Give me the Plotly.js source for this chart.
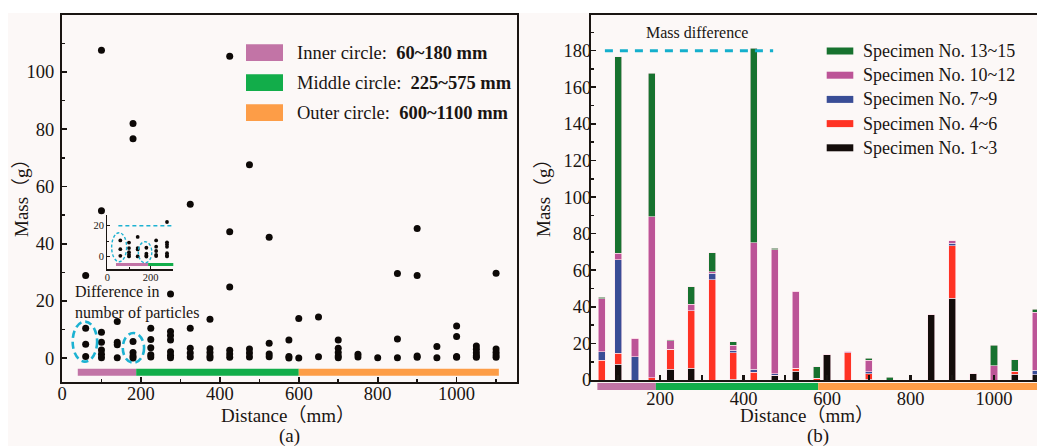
<!DOCTYPE html>
<html><head><meta charset="utf-8">
<script src="https://cdn.plot.ly/plotly-3.0.1.min.js"></script>
<style>html,body{margin:0;padding:0;background:#fff;overflow:hidden}</style>
</head><body><div id="chart" style="width:1037px;height:446px"></div>
<script>
// ---------- Panel (a): individual particle masses ----------
const particleDistance = [
  60,60,60,60,
  100,100,100,100,100,100,100,
  140,140,140,140,
  180,180,180,180,180,180,
  225,225,225,225,225,
  275,275,275,275,275,275,275,
  325,325,325,325,325,
  375,375,375,375,375,
  425,425,425,425,425,425,
  475,475,475,475,
  525,525,525,525,
  575,575,575,
  600,600,
  650,650,
  700,700,700,700,700,
  750,750,
  800,
  850,850,850,
  900,900,900,900,
  950,950,
  1000,1000,1000,1000,
  1050,1050,1050,1050,1050,
  1100,1100,1100,1100,1100
];
const particleMass = [
  28.9,10.5,4.9,0.6,
  107.6,51.5,9.1,5.6,2.9,1.4,0.2,
  12.8,5.6,4.7,0.2,
  82.0,76.7,5.8,2.0,0.8,0.1,
  10.5,6.5,3.7,1.2,0.4,
  22.4,9.3,7.9,6.4,2.3,1.0,0.2,
  53.8,10.5,3.5,1.8,0.4,
  13.6,3.3,2.0,0.8,0.1,
  105.5,44.2,24.9,2.8,1.5,0.3,
  67.6,3.2,1.8,0.4,
  42.3,5.2,1.5,0.5,
  6.4,0.6,0.1,
  13.9,0.1,
  14.4,0.5,
  6.4,3.5,2.0,0.8,0.2,
  1.4,0.4,
  0.2,
  29.6,6.7,0.2,
  45.3,28.9,0.8,0.3,
  4.1,0.2,
  11.3,7.6,0.6,0.3,
  4.3,3.1,1.9,0.9,0.3,
  29.7,3.2,2.1,1.1,0.3
];
const zoneLabels = ['Inner circle: ', 'Middle circle: ', 'Outer circle: '];
const zoneRanges = ['60~180 mm', '225~575 mm', '600~1100 mm'];
const zoneStartA = [40, 188, 600];
const zoneEndA   = [188, 600, 1107];
const zoneStartB = [50, 190, 579];
const zoneEndB   = [190, 579, 1120];
const zoneColors = ['#c274a6', '#12ad4a', '#fd9d47'];

// ---------- Panel (b): stacked mass per distance ----------
const barDistance = [60,100,140,180,225,275,325,375,425,475,525,575,600,650,700,750,850,900,950,1000,1050,1100];
const mass1to3   = [0, 8.6, 0, 0, 6.0, 6.4, 0, 0.4, 0, 2.7, 4.9, 0, 13.7, 0, 0.5, 0, 35.7, 44.6, 3.4, 0, 3.2, 3.0];
const mass4to6   = [10.8, 6.0, 0, 1.3, 10.8, 31.5, 54.7, 14.6, 4.2, 0, 1.5, 0.9, 0, 14.9, 3.0, 0, 0, 28.8, 0, 0, 1.2, 0];
const mass7to9   = [4.7, 51.0, 12.8, 0, 0, 0, 3.6, 1.2, 1.8, 0.6, 0, 0, 0, 0, 1.0, 0, 0, 1.3, 0, 0, 0, 2.4];
const mass10to12 = [28.8, 3.6, 10.0, 88.0, 4.7, 3.6, 1.0, 2.8, 69.0, 67.8, 42.2, 0, 0, 0.9, 6.3, 0, 0, 1.5, 0, 7.8, 0.3, 31.7];
const mass13to15 = [0.9, 107.5, 0, 78.3, 0.6, 9.6, 10.2, 1.8, 106.3, 1.0, 0, 6.4, 0, 0, 1.2, 1.6, 0, 0, 0, 11.3, 6.3, 1.5];
const specimenNames  = ['Specimen No. 1~3', 'Specimen No. 4~6', 'Specimen No. 7~9', 'Specimen No. 10~12', 'Specimen No. 13~15'];
const specimenColors = ['#140d0b', '#ff3324', '#394d96', '#bc5497', '#17722f'];
const specimenSeries = [mass1to3, mass4to6, mass7to9, mass10to12, mass13to15];
const massDifferenceLevel = 180;
const massDifferenceFrom = 68, massDifferenceTo = 471;

// ---------- helpers ----------
const W = 1037, H = 446;
const X = v => v / W;
const Y = v => 1 - v / H;
const serif = 'Liberation Serif, Times New Roman, Noto Sans CJK SC, serif';
const ink = '#1a1512';
const cyan = '#1db2d2';

const traces = [];
traces.push({type:'scatter', mode:'markers', x:particleDistance, y:particleMass, xaxis:'x', yaxis:'y',
  marker:{size:7, color:'#0d0907'}, hoverinfo:'skip', showlegend:false});
traces.push({type:'scatter', mode:'markers', x:particleDistance, y:particleMass, xaxis:'x3', yaxis:'y3',
  marker:{size:3.8, color:'#0d0907'}, hoverinfo:'skip', showlegend:false});
specimenSeries.forEach((s, i) => {
  traces.push({type:'bar', x:barDistance, y:s, name:specimenNames[i], xaxis:'x2', yaxis:'y2', width:17,
    marker:{color:specimenColors[i], line:{color:'rgba(255,228,236,0.75)', width:0.8}},
    hoverinfo:'skip', showlegend:false});
});
traces.push({type:'scatter', mode:'markers', x:[null], y:[null], xaxis:'x2', yaxis:'y4', showlegend:false, hoverinfo:'skip'});

const tf = {family:serif, size:18.5, color:ink};
const axBase = {showline:true, linewidth:2, linecolor:ink, ticks:'inside', ticklen:5, tickwidth:1.6, tickcolor:ink,
  showgrid:false, zeroline:false, tickfont:tf};

const shapes = [];
shapes.push({type:'rect', xref:'paper', yref:'paper', x0:X(8), x1:1, y0:0, y1:Y(13), fillcolor:'#fcf8f7', line:{width:0}, layer:'below'});
zoneStartA.forEach((s, i) => {
  shapes.push({type:'rect', xref:'x', yref:'y', x0:s, x1:zoneEndA[i], y0:-6.1, y1:-3.7, fillcolor:zoneColors[i], line:{width:0}});
  shapes.push({type:'rect', xref:'x3', yref:'y3', x0:s, x1:zoneEndA[i], y0:-5.9, y1:-4.0, fillcolor:zoneColors[i], line:{width:0}});
  shapes.push({type:'rect', xref:'x2', yref:'y4', x0:zoneStartB[i], x1:zoneEndB[i], y0:0, y1:1, fillcolor:zoneColors[i], line:{width:0}});
});
shapes.push({type:'circle', xref:'x', yref:'y', x0:27, x1:89, y0:-1.2, y1:12.8, line:{color:cyan, width:2.6, dash:'7px,4px'}});
shapes.push({type:'circle', xref:'x', yref:'y', x0:154, x1:208, y0:-1.6, y1:8.8, line:{color:cyan, width:2.6, dash:'7px,4px'}});
shapes.push({type:'line', xref:'x3', yref:'y3', x0:51, x1:304, y0:20, y1:20, line:{color:cyan, width:1.5, dash:'4px,3px'}});
shapes.push({type:'circle', xref:'x3', yref:'y3', x0:20, x1:89, y0:-3.2, y1:15.5, line:{color:cyan, width:1.4, dash:'3px,2px'}});
shapes.push({type:'circle', xref:'x3', yref:'y3', x0:143, x1:205, y0:-3.9, y1:9.7, line:{color:cyan, width:1.4, dash:'3px,2px'}});
shapes.push({type:'line', xref:'x2', yref:'y2', x0:massDifferenceFrom, x1:massDifferenceTo, y0:massDifferenceLevel, y1:massDifferenceLevel,
  line:{color:'#14afcc', width:3, dash:'8px,7px'}});

const annotations = [];
zoneLabels.forEach((t, i) => {
  const top = 44.3 + 30 * i;
  shapes.push({type:'rect', xref:'paper', yref:'paper', x0:X(246), x1:X(283), y0:Y(top + 16.8), y1:Y(top), fillcolor:zoneColors[i], line:{width:0}});
  annotations.push({xref:'paper', yref:'paper', x:X(295), y:Y(top + 9), xanchor:'left', yanchor:'middle', showarrow:false,
    text:t + ' <b>' + zoneRanges[i] + '</b>', font:{family:serif, size:18.5, color:ink}});
});
for (let k = 0; k < specimenNames.length; k++) {
  const i = specimenNames.length - 1 - k;
  const cy = 51 + 24.2 * k;
  shapes.push({type:'rect', xref:'paper', yref:'paper', x0:X(826.7), x1:X(853.3), y0:Y(cy + 3.5), y1:Y(cy - 3.5), fillcolor:specimenColors[i], line:{width:0}});
  annotations.push({xref:'paper', yref:'paper', x:X(861), y:Y(cy), xanchor:'left', yanchor:'middle', showarrow:false,
    text:specimenNames[i], font:{family:serif, size:18, color:ink}});
}
annotations.push({xref:'paper', yref:'paper', x:X(73), y:Y(302), xanchor:'left', yanchor:'middle', align:'left', showarrow:false,
  text:'Difference in<br>number of particles', font:{family:serif, size:16, color:ink}});
annotations.push({xref:'paper', yref:'paper', x:X(696.7), y:Y(33), xanchor:'center', yanchor:'middle', showarrow:false,
  text:'Mass difference', font:{family:serif, size:16, color:ink}});
annotations.push({xref:'paper', yref:'paper', x:X(287.7), y:Y(415), xanchor:'center', yanchor:'middle', showarrow:false,
  text:'Distance（mm）', font:{family:serif, size:19, color:ink}});
annotations.push({xref:'paper', yref:'paper', x:X(806.7), y:Y(415), xanchor:'center', yanchor:'middle', showarrow:false,
  text:'Distance（mm）', font:{family:serif, size:19, color:ink}});
annotations.push({xref:'paper', yref:'paper', x:X(21), y:Y(193), xanchor:'center', yanchor:'middle', showarrow:false, textangle:-90,
  text:'Mass（g）', font:{family:serif, size:19, color:ink}});
annotations.push({xref:'paper', yref:'paper', x:X(543), y:Y(193), xanchor:'center', yanchor:'middle', showarrow:false, textangle:-90,
  text:'Mass（g）', font:{family:serif, size:19, color:ink}});
annotations.push({xref:'paper', yref:'paper', x:X(289), y:Y(436), xanchor:'center', yanchor:'middle', showarrow:false,
  text:'(a)', font:{family:serif, size:19, color:ink}});
annotations.push({xref:'paper', yref:'paper', x:X(818), y:Y(436), xanchor:'center', yanchor:'middle', showarrow:false,
  text:'(b)', font:{family:serif, size:19, color:ink}});

const layout = {
  width:W, height:H, margin:{l:0, r:0, t:0, b:0},
  paper_bgcolor:'#ffffff', plot_bgcolor:'rgba(0,0,0,0)',
  barmode:'stack', bargap:0, showlegend:false,
  xaxis:Object.assign({}, axBase, {domain:[X(62), X(517)], range:[0,1153], anchor:'y', mirror:true, tick0:0, dtick:200,
    minor:{dtick:100, ticks:'inside', ticklen:3, tickwidth:1.6, tickcolor:ink}, ticklabelstandoff:-6}),
  yaxis:Object.assign({}, axBase, {domain:[Y(381.7), Y(15)], range:[-8.2,119.9], anchor:'x', mirror:true, tick0:0, dtick:20,
    minor:{dtick:10, ticks:'inside', ticklen:3, tickwidth:1.6, tickcolor:ink}, ticklabelstandoff:2}),
  xaxis2:Object.assign({}, axBase, {domain:[X(591), 1], range:[34.7,1103], anchor:'y2', mirror:true, tick0:0, dtick:200,
    ticklen:5, tickwidth:2.2, minor:{dtick:100, ticks:'inside', ticklen:5, tickwidth:2.2, tickcolor:ink}, ticklabelstandoff:1}),
  yaxis2:Object.assign({}, axBase, {domain:[Y(380), Y(15)], range:[0,199.5], anchor:'x2', mirror:false, tick0:0, dtick:20,
    minor:{dtick:10, ticks:'inside', ticklen:3, tickwidth:1.6, tickcolor:ink}, ticklabelstandoff:-6}),
  xaxis3:Object.assign({}, axBase, {domain:[X(107.3), X(173.3)], range:[0,304], anchor:'y3', linewidth:1.2, ticklen:3, tickwidth:1,
    tick0:0, dtick:200, minor:{dtick:100, ticks:'inside', ticklen:2, tickwidth:1, tickcolor:ink}, tickfont:{family:serif, size:10.5, color:ink}, ticklabelstandoff:-2}),
  yaxis3:Object.assign({}, axBase, {domain:[Y(269.3), Y(215)], range:[-8.1,26.9], anchor:'x3', linewidth:1.2, ticklen:3, tickwidth:1,
    tick0:0, dtick:20, minor:{dtick:10, ticks:'inside', ticklen:2, tickwidth:1, tickcolor:ink}, tickfont:{family:serif, size:10.5, color:ink}}),
  yaxis4:{domain:[Y(390), Y(382.7)], range:[0,1], anchor:'x2', visible:false, fixedrange:true},
  shapes:shapes, annotations:annotations
};
Plotly.newPlot('chart', traces, layout, {staticPlot:true, displayModeBar:false});
</script></body></html>
